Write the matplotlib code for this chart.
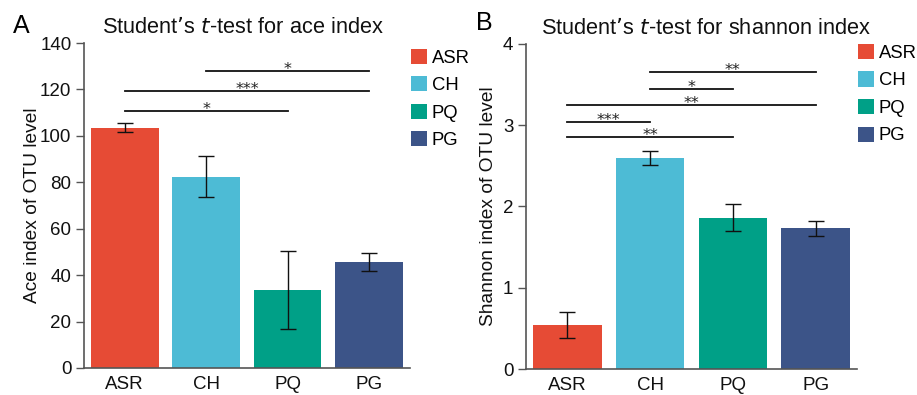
import matplotlib
matplotlib.use('Agg')
from matplotlib import pyplot as plt
from matplotlib.patches import Patch

plt.rcParams['font.family'] = ['Liberation Sans', 'DejaVu Sans']

# data
groups = ['ASR', 'CH', 'PQ', 'PG']
colors = ['#E64B35', '#4DBBD5', '#00A087', '#3C5488']

ace_mean = [103.6, 82.4, 33.6, 45.5]
ace_err = [1.9, 8.9, 16.8, 3.9]
# (from, to, height, label)
ace_sig = [(0, 2, 110.7, '*'), (0, 3, 119.5, '***'), (1, 3, 128.1, '*')]

shan_mean = [0.54, 2.60, 1.86, 1.73]
shan_err = [0.16, 0.085, 0.165, 0.095]
shan_sig = [(0, 2, 2.85, '**'), (0, 1, 3.04, '***'), (0, 3, 3.25, '**'),
            (1, 2, 3.45, '*'), (1, 3, 3.66, '**')]

fig = plt.figure(figsize=(9.17, 3.95), dpi=100)
axA = fig.add_axes([0.0916, 0.0684, 0.3554, 0.8226])
axB = fig.add_axes([0.5736, 0.0658, 0.3610, 0.8230])


def draw(ax, means, errs, sigs, ymax, yticks, ylabel, title, title_x, lab_x, leg_y):
    x = range(len(groups))
    ax.bar(x, means, width=0.83, color=colors, yerr=errs,
           error_kw=dict(ecolor='#111111', elinewidth=1, capsize=6, capthick=1))
    ax.set_xlim(-0.5, 3.5)
    ax.set_ylim(0, ymax)
    ax.set_yticks(yticks)
    ax.set_xticks(list(x))
    ax.set_xticklabels(groups)
    ax.tick_params(axis='x', length=0, labelsize=13.5, pad=6, colors='#111111')
    ax.tick_params(axis='y', length=6, width=1, labelsize=13.5, pad=3,
                   color='#555555', labelcolor='#111111')
    for s in ['top', 'right']:
        ax.spines[s].set_visible(False)
    for s in ['left', 'bottom']:
        ax.spines[s].set_color('#555555')
        ax.spines[s].set_linewidth(1.2)
    ax.set_ylabel(ylabel, fontsize=13.8, color='#111111')
    ax.yaxis.set_label_coords(lab_x, 0.5)
    ax.set_title(title, fontsize=15.7, pad=7, color='#111111', x=title_x)
    for a, b, h, lab in sigs:
        ax.plot([a, b], [h, h], color='#111111', lw=1.3, clip_on=False)
        ax.annotate(lab, xy=((a + b) / 2, h), xytext=(0, -2.2), textcoords='offset points',
                    ha='center', va='baseline', fontsize=11.5, color='#222222',
                    family='DejaVu Sans')
    handles = [Patch(facecolor=c, edgecolor='none') for c in colors]
    ax.legend(handles, groups, loc='upper left', bbox_to_anchor=(1.003, leg_y),
              frameon=False, handlelength=0.88, handleheight=0.88, handletextpad=0.25,
              labelspacing=0.52, fontsize=13.3, borderaxespad=0, borderpad=0)


draw(axA, ace_mean, ace_err, ace_sig, 140, [0, 20, 40, 60, 80, 100, 120, 140],
     'Ace index of OTU level', 'Student\u2019s $\\it{t}$-test for ace index', 0.488, -0.132, 0.983)
draw(axB, shan_mean, shan_err, shan_sig, 4, [0, 1, 2, 3, 4],
     'Shannon index of OTU level', 'Student\u2019s $\\it{t}$-test for shannon index', 0.544, -0.0876, 1.0)

fig.text(21 / 917, 1 - 33 / 395, 'A', fontsize=18, ha='center', va='baseline')
fig.text(484 / 917, 1 - 30 / 395, 'B', fontsize=18, ha='center', va='baseline')

fig.savefig('out.png', dpi=100)
